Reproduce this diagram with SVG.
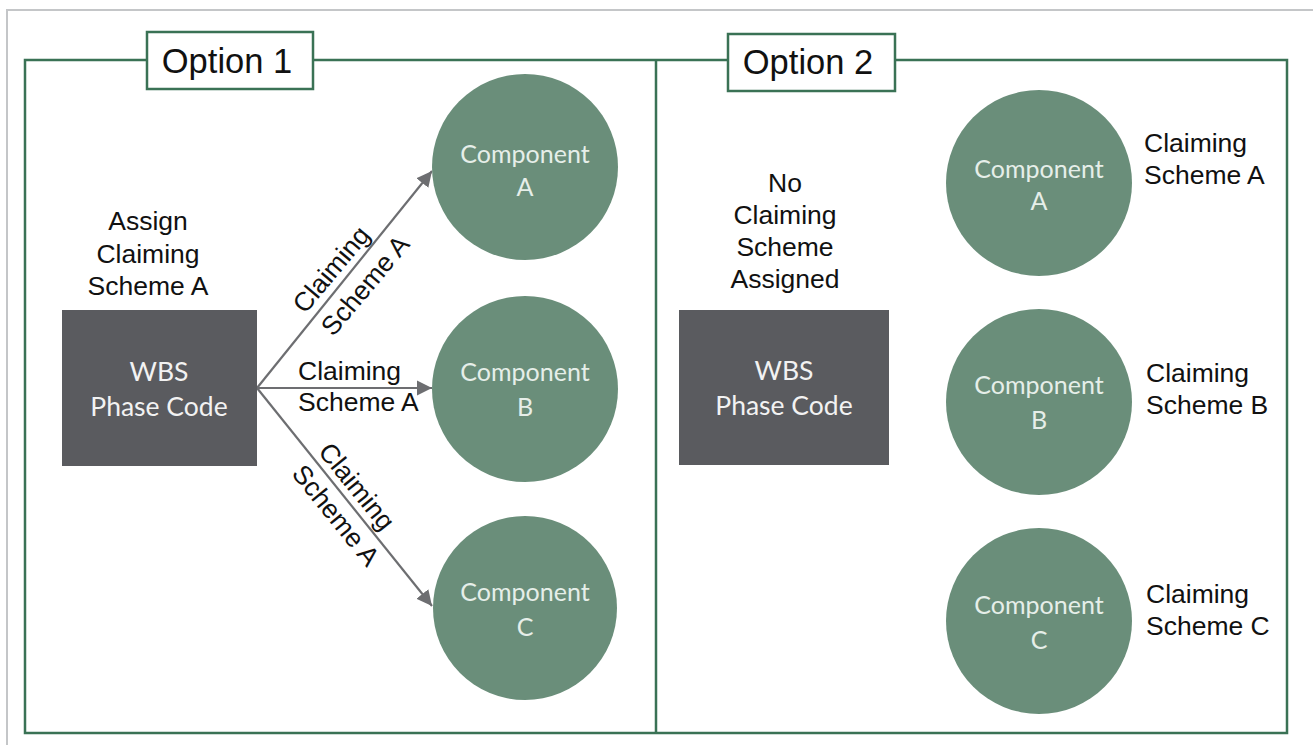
<svg xmlns="http://www.w3.org/2000/svg" width="1313" height="745" viewBox="0 0 1313 745">
<style>
.frame{fill:none;stroke:#3A7255;stroke-width:2.5}
.tag{fill:#fff;stroke:#3A7255;stroke-width:2.5}
.title{font-family:"Liberation Sans",Arial,sans-serif;font-size:34.5px;fill:#111;text-anchor:middle}
.lbl{font-family:"Liberation Sans",Arial,sans-serif;font-size:26.5px;fill:#111}
.mid{text-anchor:middle}
.wbs{fill:#5A5B5F}
.wbst{font-family:Lato,"Open Sans",sans-serif;font-size:26.5px;fill:#F2F2F2;text-anchor:middle}
.comp{fill:#6A8E7A}
.compt{font-family:Lato,"Open Sans",sans-serif;font-size:25px;fill:#E6EEE9;text-anchor:middle}
.conn{stroke:#6D6E71;stroke-width:2.2;fill:none}
</style>
<defs>
<marker id="arr" markerWidth="8" markerHeight="8" refX="7" refY="4" orient="auto" markerUnits="strokeWidth">
<path d="M0,0.5 L7,4 L0,7.5 z" fill="#6D6E71"/>
</marker>
</defs>
<rect x="0" y="0" width="1313" height="745" fill="#fff"/>
<path d="M7,745 V10 H1313" fill="none" stroke="#C4C6C8" stroke-width="2"/>
<g id="frame">
<rect class="frame" x="25" y="60" width="1262" height="673"/>
<line class="frame" x1="656" y1="60" x2="656" y2="733"/>
</g>
<g id="option1">
<rect class="tag" x="147" y="32" width="166" height="57"/>
<text class="title" x="227" y="73">Option 1</text>
</g>
<g id="option2">
<rect class="tag" x="728" y="34" width="167" height="57"/>
<text class="title" x="808" y="74">Option 2</text>
</g>
<g id="connectors">
<line class="conn" x1="257" y1="388" x2="432" y2="171" marker-end="url(#arr)"/>
<line class="conn" x1="257" y1="388" x2="432" y2="388" marker-end="url(#arr)"/>
<line class="conn" x1="257" y1="388" x2="432" y2="606" marker-end="url(#arr)"/>
</g>
<g id="wbs1">
<rect class="wbs" x="62" y="310" width="195" height="156"/>
<text class="wbst" x="159" y="381">WBS</text>
<text class="wbst" x="159" y="416">Phase Code</text>
</g>
<g id="assign-label">
<text class="lbl mid" x="148" y="230">Assign</text>
<text class="lbl mid" x="148" y="263">Claiming</text>
<text class="lbl mid" x="148" y="295">Scheme A</text>
</g>
<g id="edge-labels">
<text class="lbl mid" transform="translate(332,270) rotate(-50)" y="8">Claiming</text>
<text class="lbl mid" transform="translate(366,286) rotate(-50)" y="8">Scheme A</text>
<text class="lbl" x="298" y="380">Claiming</text>
<text class="lbl" x="298" y="411">Scheme A</text>
<text class="lbl mid" transform="translate(356,487) rotate(51)" y="8">Claiming</text>
<text class="lbl mid" transform="translate(335,516) rotate(51)" y="8">Scheme A</text>
</g>
<g id="compA1">
<circle class="comp" cx="525" cy="167" r="93"/>
<text class="compt" x="525" y="163">Component</text>
<text class="compt" x="525" y="196">A</text>
</g>
<g id="compB1">
<circle class="comp" cx="525" cy="389" r="93"/>
<text class="compt" x="525" y="381">Component</text>
<text class="compt" x="525" y="416">B</text>
</g>
<g id="compC1">
<circle class="comp" cx="525" cy="608" r="92"/>
<text class="compt" x="525" y="601">Component</text>
<text class="compt" x="525" y="636">C</text>
</g>
<g id="wbs2">
<rect class="wbs" x="679" y="310" width="210" height="155"/>
<text class="wbst" x="784" y="380">WBS</text>
<text class="wbst" x="784" y="415">Phase Code</text>
</g>
<g id="no-label">
<text class="lbl mid" x="785" y="192">No</text>
<text class="lbl mid" x="785" y="224">Claiming</text>
<text class="lbl mid" x="785" y="256">Scheme</text>
<text class="lbl mid" x="785" y="288">Assigned</text>
</g>
<g id="compA2">
<circle class="comp" cx="1039" cy="183" r="93"/>
<text class="compt" x="1039" y="178">Component</text>
<text class="compt" x="1039" y="210">A</text>
</g>
<g id="compB2">
<circle class="comp" cx="1039" cy="402" r="93"/>
<text class="compt" x="1039" y="394">Component</text>
<text class="compt" x="1039" y="429">B</text>
</g>
<g id="compC2">
<circle class="comp" cx="1039" cy="621" r="93"/>
<text class="compt" x="1039" y="614">Component</text>
<text class="compt" x="1039" y="649">C</text>
</g>
<g id="scheme-labels">
<text class="lbl" x="1144" y="152">Claiming</text>
<text class="lbl" x="1144" y="184">Scheme A</text>
<text class="lbl" x="1146" y="382">Claiming</text>
<text class="lbl" x="1146" y="414">Scheme B</text>
<text class="lbl" x="1146" y="603">Claiming</text>
<text class="lbl" x="1146" y="635">Scheme C</text>
</g>
</svg>
